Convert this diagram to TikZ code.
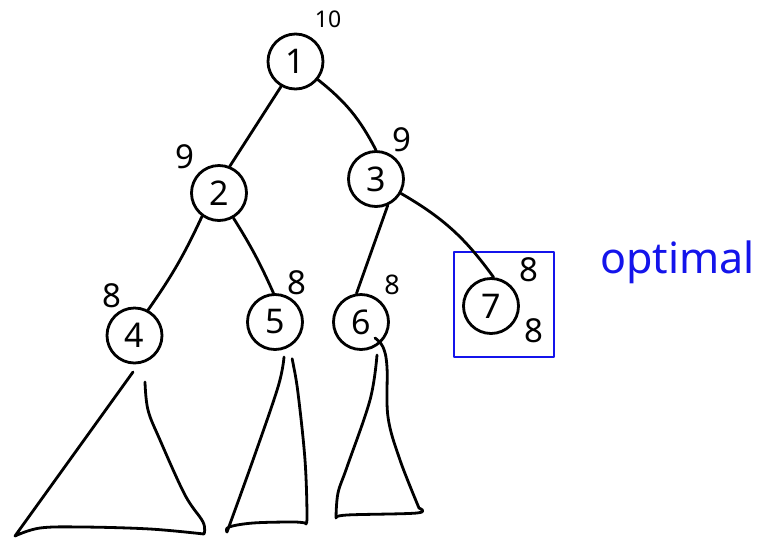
\documentclass[tikz,border=0pt]{standalone}
\usepackage{fontspec}
\setmainfont{Noto Sans}
\definecolor{inkblue}{RGB}{20,20,235}
\begin{document}
\begin{tikzpicture}[x=1pt,y=-1pt, line width=2.8pt, line cap=round, line join=round,
  vtx/.style={circle, draw, minimum size=55pt, inner sep=0pt, font=\fontsize{34}{34}\selectfont},
  wlabel/.style={inner sep=0pt, font=\fontsize{33}{33}\selectfont},
  subtree/.style={draw}]
\useasboundingbox (0,0) rectangle (769,550);

% vertices
\node[vtx] (n1) at (295.5,61.5) {1};
\node[vtx] (n2) at (219,193) {2};
\node[vtx] (n3) at (376,179) {3};
\node[vtx] (n4) at (134.5,335.5) {4};
\node[vtx] (n5) at (275,322) {5};
\node[vtx] (n6) at (361,322) {6};
\node[vtx] (n7) at (491,306) {7};

% labels
\node[wlabel, font=\fontsize{23}{23}\selectfont] (l1) at (328,19) {10};
\node[wlabel] (l2) at (185,157) {9};
\node[wlabel] (l3) at (402,140) {9};
\node[wlabel] (l4) at (112,296) {8};
\node[wlabel] (l5) at (297,283) {8};
\node[wlabel, font=\fontsize{27}{27}\selectfont] (l6) at (392,285) {8};
\node[wlabel] (l7a) at (529,270) {8};
\node[wlabel] (l7b) at (534,331) {8};

% optimal box
\node[draw=inkblue, minimum width=100pt, minimum height=105pt, inner sep=0pt] (box) at (504,304.5) {};
\node[text=inkblue, inner sep=0pt, font=\fontsize{43}{43}\selectfont, anchor=base west] (opt) at (599,273) {optimal};

% edges
\draw (n1.240) -- (n2.68);
\draw (n1.321) to[bend left=12] (n3.90);
\draw (n2.234) to[bend left=5] (n4.62);
\draw (n2.300) to[bend left=4] (n5.93);
\draw (n3.294) -- (n6.99);
\draw (n3.330) to[bend left=12] (n7.85);

% subtrees
\draw[subtree] (133,372) -- (15,536)
  -- plot[smooth, tension=0.6] coordinates {(15,536) (40,528) (83,527) (150,529) (204,534)}
  -- plot[smooth, tension=0.6] coordinates {(204,534) (203,522) (185,495) (160,440) (148,410) (145,382)};
\draw[subtree] plot[smooth, tension=0.6] coordinates {(284,357) (278,387) (253,460) (227,532)}
  -- plot[smooth, tension=0.6] coordinates {(227,532) (229,527) (253,523) (293,522) (305,523)}
  -- plot[smooth, tension=0.6] coordinates {(305,523) (307,517) (305,460) (298,393) (293,363) (292,359)};
\draw[subtree] plot[smooth, tension=0.6] coordinates {(377,355) (370,400) (347,467) (338,493) (336,518)}
  -- plot[smooth, tension=0.6] coordinates {(336,518) (347,515) (417,513) (419,508)}
  -- plot[smooth, tension=0.6] coordinates {(419,508) (400,460) (388,417) (387,367) (383,347) (375,338)};
\end{tikzpicture}
\end{document}
